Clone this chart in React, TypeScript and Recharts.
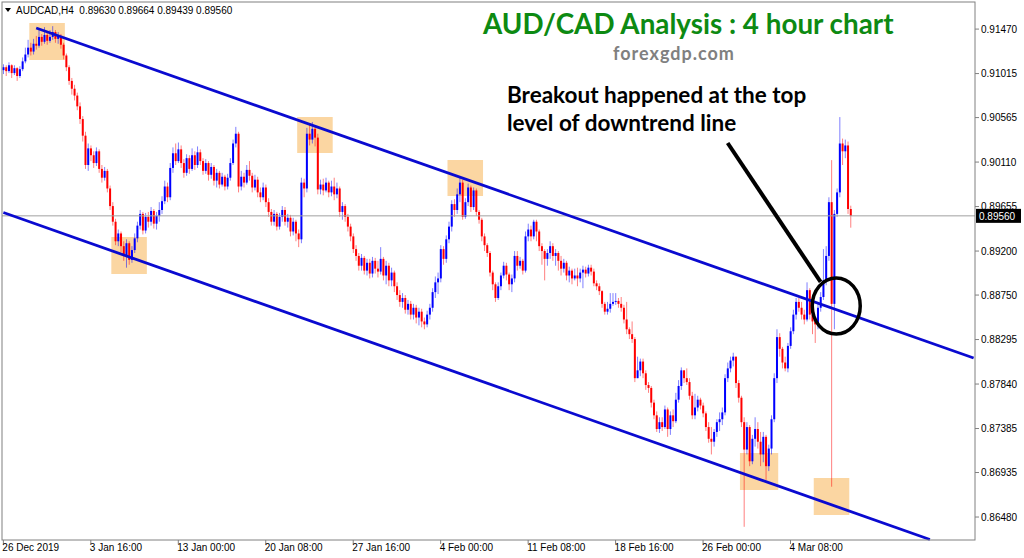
import React from 'react'
import {
  ComposedChart,
  Bar,
  XAxis,
  YAxis,
  ReferenceLine,
  ReferenceArea,
  ReferenceDot,
} from 'recharts'

// AUDCAD H4 candles, prices in pips (0.9108 -> 9108), each row is [close, high, low]
// open of a candle = close of the one before
const firstOpen = 9105

const dec26 = [
  [9108, 9111, 9101], [9104, 9110, 9099], [9110, 9113, 9102], [9102, 9111, 9097], [9107, 9110, 9100], [9099, 9108, 9094], [9106, 9109, 9097], [9114, 9118, 9104],
  [9121, 9128, 9112], [9128, 9136, 9118], [9124, 9133, 9120], [9132, 9137, 9121], [9130, 9140, 9126], [9139, 9147, 9128], [9134, 9142, 9130], [9141, 9149, 9132],
  [9135, 9145, 9131], [9139, 9146, 9133], [9144, 9150, 9136], [9137, 9146, 9133], [9140, 9144, 9132], [9131, 9142, 9127], [9120, 9133, 9116], [9108, 9122, 9104],
  [9094, 9110, 9090], [9086, 9097, 9080], [9079, 9090, 9074], [9068, 9082, 9064], [9055, 9072, 9050], [9038, 9058, 9032], [9008, 9042, 9004], [9025, 9030, 9002],
]
const jan03 = [
  [9018, 9028, 9012], [9010, 9022, 9005], [9022, 9026, 9007], [9004, 9024, 9000], [8995, 9008, 8990], [9002, 9006, 8992], [8984, 9004, 8980], [8966, 8987, 8962],
  [8950, 8970, 8946], [8930, 8953, 8926], [8938, 8942, 8925], [8925, 8940, 8919], [8915, 8930, 8910], [8928, 8932, 8903], [8911, 8930, 8906], [8921, 8925, 8908],
  [8933, 8938, 8918], [8946, 8950, 8929], [8958, 8962, 8942], [8941, 8960, 8937], [8955, 8959, 8938], [8950, 8960, 8944], [8961, 8965, 8946], [8948, 8963, 8943],
  [8956, 8960, 8942], [8962, 8970, 8950], [8971, 8976, 8958], [8986, 8992, 8968], [8975, 8990, 8970], [9005, 9010, 8972], [9020, 9026, 9000], [9012, 9030, 9008],
]
const jan13 = [
  [9024, 9031, 9010], [9010, 9028, 9005], [9000, 9014, 8995], [9015, 9019, 8997], [9004, 9018, 8999], [9018, 9025, 9002], [9008, 9022, 9003], [9021, 9027, 9005],
  [9012, 9024, 9008], [9002, 9015, 8998], [9010, 9014, 8999], [8998, 9012, 8992], [9006, 9010, 8994], [8992, 9008, 8987], [9000, 9004, 8985], [8988, 9002, 8984],
  [8996, 9000, 8986], [8986, 8998, 8982], [8995, 8999, 8983], [9010, 9015, 8992], [9030, 9034, 9008], [9040, 9047, 9026], [8986, 9042, 8980], [8996, 9002, 8982],
  [8990, 9000, 8985], [9003, 9008, 8988], [8997, 9012, 8992], [8985, 9000, 8980], [8993, 8998, 8982], [8980, 8996, 8975], [8975, 8985, 8970], [8985, 8990, 8972],
]
const jan20 = [
  [8970, 8988, 8965], [8960, 8974, 8955], [8950, 8963, 8946], [8958, 8962, 8946], [8945, 8960, 8941], [8955, 8959, 8942], [8962, 8966, 8950], [8950, 8965, 8946],
  [8954, 8958, 8944], [8940, 8957, 8935], [8950, 8954, 8936], [8938, 8952, 8930], [8932, 8942, 8924], [8990, 8995, 8928], [8984, 8994, 8975], [9040, 9046, 8980],
  [9034, 9050, 9028], [9045, 9052, 9030], [9036, 9048, 9027], [8983, 9040, 8978], [8988, 8993, 8978], [8982, 8994, 8977], [8990, 8995, 8980], [8980, 8992, 8975],
  [8986, 8992, 8976], [8978, 8995, 8972], [8984, 8990, 8974], [8960, 8986, 8955], [8966, 8970, 8952], [8955, 8968, 8950], [8945, 8958, 8940], [8935, 8948, 8930],
]
const jan27 = [
  [8922, 8938, 8918], [8915, 8926, 8910], [8905, 8918, 8900], [8913, 8917, 8900], [8900, 8915, 8896], [8908, 8912, 8895], [8897, 8912, 8892], [8910, 8914, 8893],
  [8902, 8913, 8897], [8899, 8910, 8893], [8912, 8924, 8896], [8895, 8914, 8890], [8905, 8910, 8886], [8890, 8908, 8884], [8898, 8903, 8884], [8884, 8900, 8878],
  [8875, 8888, 8870], [8868, 8880, 8863], [8872, 8877, 8862], [8860, 8875, 8856], [8866, 8870, 8855], [8855, 8869, 8850], [8862, 8866, 8850], [8852, 8865, 8846],
  [8858, 8862, 8844], [8848, 8861, 8842], [8845, 8852, 8840], [8855, 8859, 8842], [8862, 8866, 8850], [8878, 8882, 8858], [8888, 8894, 8872], [8892, 8898, 8876],
]
const feb04 = [
  [8922, 8926, 8888], [8912, 8925, 8906], [8932, 8936, 8908], [8945, 8950, 8928], [8968, 8972, 8940], [8962, 8973, 8955], [8978, 8984, 8958], [8990, 8996, 8970],
  [8955, 8993, 8952], [8970, 8974, 8953], [8985, 8989, 8966], [8965, 8987, 8960], [8982, 8985, 8962], [8960, 8984, 8956], [8952, 8962, 8948], [8935, 8954, 8930],
  [8926, 8938, 8920], [8918, 8928, 8914], [8898, 8920, 8894], [8886, 8900, 8880], [8872, 8888, 8868], [8884, 8888, 8870], [8895, 8898, 8880], [8905, 8909, 8892],
  [8896, 8908, 8890], [8886, 8898, 8880], [8892, 8896, 8878], [8915, 8920, 8888], [8905, 8920, 8900], [8910, 8914, 8902], [8900, 8912, 8896], [8935, 8940, 8898],
]
const feb11 = [
  [8942, 8948, 8930], [8935, 8946, 8930], [8950, 8952, 8932], [8940, 8952, 8930], [8925, 8942, 8920], [8920, 8928, 8906], [8912, 8922, 8890], [8918, 8922, 8905],
  [8925, 8930, 8912], [8915, 8928, 8910], [8918, 8922, 8905], [8910, 8920, 8900], [8902, 8915, 8895], [8908, 8912, 8898], [8895, 8910, 8890], [8900, 8904, 8888],
  [8892, 8902, 8886], [8895, 8902, 8890], [8892, 8903, 8884], [8898, 8902, 8888], [8901, 8905, 8882], [8897, 8904, 8893], [8903, 8906, 8894], [8899, 8906, 8895],
  [8887, 8902, 8884], [8884, 8890, 8880], [8879, 8887, 8875], [8866, 8880, 8862], [8858, 8868, 8855], [8861, 8868, 8855], [8866, 8877, 8857], [8868, 8877, 8864],
]
const feb18 = [
  [8869, 8877, 8865], [8866, 8872, 8862], [8862, 8873, 8858], [8850, 8865, 8846], [8840, 8868, 8835], [8835, 8842, 8830], [8830, 8848, 8826], [8790, 8832, 8786],
  [8798, 8812, 8792], [8807, 8810, 8792], [8795, 8810, 8790], [8783, 8798, 8778], [8780, 8786, 8775], [8765, 8782, 8760], [8752, 8768, 8748], [8738, 8756, 8735],
  [8745, 8750, 8734], [8740, 8750, 8736], [8758, 8762, 8738], [8738, 8760, 8730], [8752, 8756, 8732], [8746, 8758, 8740], [8768, 8775, 8744], [8782, 8788, 8765],
  [8798, 8801, 8778], [8790, 8796, 8785], [8786, 8800, 8783], [8772, 8790, 8768], [8752, 8776, 8748], [8760, 8774, 8748], [8768, 8772, 8756], [8762, 8770, 8758],
]
const feb26 = [
  [8754, 8765, 8750], [8740, 8756, 8736], [8728, 8745, 8724], [8725, 8740, 8712], [8735, 8738, 8720], [8745, 8748, 8730], [8748, 8755, 8736], [8755, 8760, 8742],
  [8790, 8794, 8752], [8800, 8806, 8786], [8808, 8812, 8796], [8812, 8816, 8802], [8785, 8812, 8780], [8770, 8788, 8765], [8745, 8772, 8740], [8717, 8750, 8638],
  [8740, 8745, 8712], [8705, 8742, 8700], [8728, 8732, 8702], [8738, 8750, 8720], [8725, 8745, 8718], [8712, 8735, 8700], [8730, 8735, 8704], [8700, 8732, 8686],
  [8718, 8722, 8695], [8748, 8752, 8712], [8790, 8795, 8745], [8832, 8840, 8785], [8820, 8836, 8812], [8806, 8822, 8800], [8800, 8812, 8797], [8823, 8826, 8796],
]
const mar04 = [
  [8838, 8842, 8820], [8855, 8860, 8835], [8868, 8872, 8850], [8862, 8872, 8858], [8855, 8868, 8850], [8850, 8860, 8845], [8880, 8888, 8848], [8855, 8882, 8850],
  [8848, 8860, 8835], [8845, 8852, 8826], [8862, 8866, 8840], [8873, 8878, 8858], [8890, 8922, 8870], [8915, 8925, 8885], [8970, 8975, 8910], [8866, 9013, 8679],
  [8958, 8962, 8840], [8980, 8984, 8955], [9030, 9057, 8975], [9022, 9035, 9008], [9028, 9034, 9015], [8963, 9032, 8958], [8956, 8966.4, 8943.9],
]

const weeks = [dec26, jan03, jan13, jan20, jan27, feb04, feb11, feb18, feb26, mar04]
const dateLabels = ['26 Dec 2019', '3 Jan 16:00', '13 Jan 00:00', '20 Jan 08:00', '27 Jan 16:00', '4 Feb 00:00', '11 Feb 08:00', '18 Feb 16:00', '26 Feb 00:00', '4 Mar 08:00']
const yTicks = [0.9147, 0.91015, 0.90565, 0.9011, 0.89655, 0.892, 0.8875, 0.88295, 0.8784, 0.87385, 0.86935, 0.8648]

const yMin = 0.86245
const yMax = 0.91747
const slots = 356 // chart keeps empty space on the right

// trend channel + highlight boxes, in (candle index, price)
const upperLine = [{ x: 12, y: 0.91481 }, { x: 355, y: 0.88106 }]
const lowerLine = [{ x: 0, y: 0.89594 }, { x: 339, y: 0.8625 }]
const arrowLine = [{ x: 265, y: 0.90305 }, { x: 299, y: 0.88884 }]
const boxes = [
  { x1: 10, x2: 22, y1: 0.91154, y2: 0.91532 },
  { x1: 40, x2: 52, y1: 0.88965, y2: 0.89344 },
  { x1: 108, x2: 120, y1: 0.90203, y2: 0.90571 },
  { x1: 163, x2: 175, y1: 0.89763, y2: 0.90131 },
  { x1: 270, x2: 283, y1: 0.86757, y2: 0.87135 },
  { x1: 297, x2: 309, y1: 0.86501, y2: 0.86879 },
]

const candles = weeks.flat()
const data: any[] = []
let prev = firstOpen
for (let i = 0; i < slots; i++) {
  const k = candles[i]
  if (!k) {
    data.push({ i, range: null })
    continue
  }
  const [c, h, l] = k
  const o = prev
  prev = c
  const hi = Math.max(h, o, c)
  const lo = Math.min(l, o, c)
  data.push({ i, o: o / 1e4, h: hi / 1e4, l: lo / 1e4, c: c / 1e4, range: [lo / 1e4, hi / 1e4] })
}
const last = data[candles.length - 1]
const tickAt = new Map(dateLabels.map((d, k) => [k * 32, d]))

const axisFont = '"Liberation Sans", Arial, sans-serif'
const noteFont = 'Lato, "Open Sans", sans-serif'

function Candle(props: any) {
  const { x, y, width, height, payload } = props
  if (!payload || payload.o == null) return null
  const { o, h, l, c } = payload
  const top = Math.min(y, y + height)
  const span = Math.abs(height)
  const k = h > l ? span / (h - l) : 0
  const yOf = (v: number) => top + (h - v) * k
  const cx = x + width / 2
  const color = c >= o ? '#0000ff' : '#ff0000'
  const bTop = yOf(Math.max(o, c))
  const bBot = yOf(Math.min(o, c))
  return (
    <g>
      <line x1={cx} x2={cx} y1={top} y2={top + span} stroke={color} strokeOpacity={0.5} strokeWidth={1} />
      <rect x={cx - 1} y={bTop} width={2} height={Math.max(1, bBot - bTop)} fill={color} />
    </g>
  )
}

function DateTick(props: any) {
  const { x, payload } = props
  const lab = tickAt.get(payload.value)
  if (!lab) return <g />
  return (
    <g>
      <line x1={x} x2={x} y1={540} y2={544} stroke="#808080" />
      <text x={x - 1} y={551} fontSize={10} fontFamily={axisFont} fill="#000">{lab}</text>
    </g>
  )
}

function PriceTag(props: any) {
  const vb = props.viewBox
  if (!vb) return null
  const x = vb.x + vb.width
  return (
    <g>
      <rect x={x + 1} y={vb.y - 7} width={45} height={14} fill="#000" />
      <text x={x + 4} y={vb.y + 4} fontSize={10} fontFamily={axisFont} fill="#fff">{last.c.toFixed(5)}</text>
    </g>
  )
}

function Ring(props: any) {
  return <ellipse cx={props.cx + 2} cy={props.cy} rx={24} ry={28} fill="none" stroke="#000" strokeWidth={3.5} />
}

export default function App() {
  const header = `AUDCAD,H4  ${last.o.toFixed(5)} ${last.h.toFixed(5)} ${last.l.toFixed(5)} ${last.c.toFixed(5)}`
  return (
    <div style={{ position: 'relative', width: 1024, height: 558, background: '#fff' }}>
      <style>{'body{margin:0}'}</style>
      <ComposedChart width={1024} height={558} data={data} margin={{ top: 2, right: 0, bottom: 0, left: 2 }} barCategoryGap={0}>
        <XAxis dataKey="i" type="category" interval={0} tickLine={false} axisLine={false} height={18} tickSize={0} tickMargin={0} tick={DateTick} />
        <YAxis
          orientation="right"
          type="number"
          domain={[yMin, yMax]}
          allowDataOverflow
          ticks={yTicks}
          interval={0}
          width={49}
          tickSize={4}
          tickMargin={2}
          axisLine={false}
          tickLine={{ stroke: '#808080' }}
          tick={{ fontSize: 10, fill: '#000', fontFamily: axisFont }}
          tickFormatter={(v: number) => v.toFixed(5)}
        />
        {boxes.map((b, k) => (
          <ReferenceArea key={k} x1={b.x1} x2={b.x2} y1={b.y1} y2={b.y2} fill="#fbd6a2" fillOpacity={1} stroke="none" />
        ))}
        <ReferenceLine y={last.c} stroke="#a0a0a0" strokeWidth={1} label={PriceTag} />
        <Bar dataKey="range" shape={Candle} isAnimationActive={false} />
        <ReferenceLine segment={upperLine} stroke="#0a0ad0" strokeWidth={2.8} />
        <ReferenceLine segment={lowerLine} stroke="#0a0ad0" strokeWidth={2.8} />
        <ReferenceLine segment={arrowLine} stroke="#000" strokeWidth={4} />
        <ReferenceDot x={304} y={0.88638} shape={Ring} />
      </ComposedChart>
      <svg width={1024} height={558} style={{ position: 'absolute', left: 0, top: 0, pointerEvents: 'none' }}>
        <rect x={2} y={2} width={973} height={538} fill="none" stroke="#808080" />
        <polygon points="5,8 11,8 8,12" fill="#000" />
        <text x={16} y={14} fontSize={10} fontFamily={axisFont} fill="#000" style={{ whiteSpace: 'pre' }}>{header}</text>
        <text x={483} y={34} fontSize={27.8} fontWeight={700} fontFamily={noteFont} fill="#0d8a12">AUD/CAD Analysis : 4 hour chart</text>
        <text x={613} y={60} fontSize={18} letterSpacing={1} fontWeight={700} fontFamily={noteFont} fill="#808080">forexgdp.com</text>
        <text x={507} y={103} fontSize={22.5} fontWeight={700} fontFamily={noteFont} fill="#000">Breakout happened at the top</text>
        <text x={507} y={131} fontSize={22.5} fontWeight={700} fontFamily={noteFont} fill="#000">level of downtrend line</text>
      </svg>
    </div>
  )
}
